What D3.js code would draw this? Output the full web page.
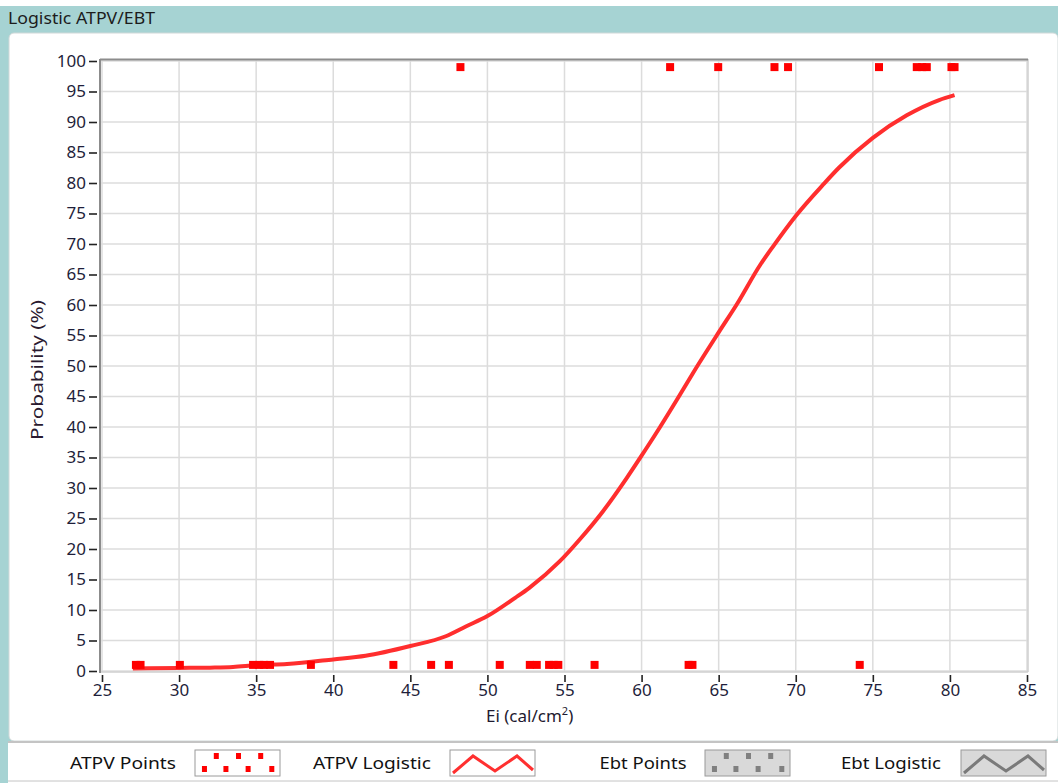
<!DOCTYPE html>
<html><head><meta charset="utf-8">
<script src="https://cdn.jsdelivr.net/npm/d3@7"></script>
<style>
body{margin:0;background:#fff;}
svg{display:block;font-family:"Noto Sans","DejaVu Sans",sans-serif;}
.tick text{font-size:17px;fill:#1e1e3a;font-family:"Noto Sans",sans-serif;}
</style></head>
<body><svg id="c" width="1058" height="783"></svg>
<script>
// ---- data ----
const title = "Logistic ATPV/EBT";
const xTicks = [25,30,35,40,45,50,55,60,65,70,75,80,85];
const yTicks = [0,5,10,15,20,25,30,35,40,45,50,55,60,65,70,75,80,85,90,95,100];
// ATPV points: no break-open (plotted at 1%) and break-open (plotted at 99%)
const atpvLowX = [27.2,27.5,30.05,34.8,35.2,35.5,35.9,38.55,43.9,46.35,47.5,50.8,52.75,53.2,54.0,54.3,54.6,56.95,63.05,63.3,74.15];
const atpvLowY = [1,1,1,1,1,1,1,1,1,1,1,1,1,1,1,1,1,1,1,1,1];
const atpvHighX = [48.25,61.85,64.97,68.62,69.5,75.4,77.85,78.2,78.5,80.1,80.3];
const atpvHighY = [99,99,99,99,99,99,99,99,99,99,99];
// ATPV logistic curve
const curveX = [27.0,28.0,30.0,32.0,33.5,35.0,37.0,40.0,42.1,45.0,47.3,48.6,50.0,51.8,52.7,54.7,56.0,57.5,59.0,60.0,61.2,62.3,63.3,65.0,66.2,67.7,68.5,70.0,71.8,72.8,75.0,77.2,79.3,80.3];
const curveY = [0.4,0.45,0.5,0.55,0.65,0.95,1.15,1.9,2.5,4.1,5.7,7.3,9.0,12.0,13.6,18.0,21.6,26.2,31.5,35.3,40.0,44.5,48.7,55.5,60.2,66.6,69.5,74.6,79.8,82.5,87.4,91.1,93.6,94.4];
const legendNames = ["ATPV Points","ATPV Logistic","Ebt Points","Ebt Logistic"];

const svg = d3.select("#c");
// window chrome
svg.append("rect").attr("x",0).attr("y",6).attr("width",1058).attr("height",777).attr("fill","#a6d3d3");
svg.append("rect").attr("x",9).attr("y",33).attr("width",1049).attr("height",708).attr("rx",5).attr("fill","#fff").attr("stroke","#d0d8d8");
svg.append("rect").attr("x",8).attr("y",743).attr("width",1050).attr("height",40).attr("fill","#fff");
svg.append("line").attr("x1",8).attr("x2",1058).attr("y1",742).attr("y2",742).attr("stroke","#c4c4c4").attr("stroke-width",2);
svg.append("line").attr("x1",8).attr("x2",1058).attr("y1",781).attr("y2",781).attr("stroke","#c4c4c4").attr("stroke-width",1);
svg.append("text").attr("x",8).attr("y",24).attr("font-size",16).attr("fill","#1c1c1c")
  .attr("textLength",147).attr("lengthAdjust","spacingAndGlyphs").text(title);

const x = d3.scaleLinear().domain([25,85]).range([102,1027]);
const y = d3.scaleLinear().domain([0,100]).range([671,61]);

// grid
const g = svg.append("g");
g.selectAll(".vg").data(xTicks).join("line").attr("x1",d=>x(d)).attr("x2",d=>x(d)).attr("y1",60).attr("y2",672).attr("stroke","#dcdcdc").attr("stroke-width",1.5);
g.selectAll(".hg").data(yTicks).join("line").attr("x1",100).attr("x2",1028).attr("y1",d=>y(d)).attr("y2",d=>y(d)).attr("stroke","#dcdcdc").attr("stroke-width",1.5);
// frame
g.append("line").attr("x1",100).attr("x2",1028).attr("y1",672).attr("y2",672).attr("stroke","#cfcfcf").attr("stroke-width",1.5);
g.append("line").attr("x1",1028).attr("x2",1028).attr("y1",59).attr("y2",672).attr("stroke","#cfcfcf").attr("stroke-width",1.5);
g.append("line").attr("x1",100).attr("x2",1028).attr("y1",59.5).attr("y2",59.5).attr("stroke","#8c8c8c").attr("stroke-width",2);
g.append("line").attr("x1",100).attr("x2",100).attr("y1",59).attr("y2",673).attr("stroke","#8c8c8c").attr("stroke-width",2);

// axes
const ya = d3.axisLeft(y).tickValues(yTicks).tickSize(8).tickPadding(3).tickFormat(d3.format("d"));
const ay = svg.append("g").attr("transform","translate(97,0)").call(ya);
const xa = d3.axisBottom(x).tickValues(xTicks).tickSize(8).tickPadding(2).tickFormat(d3.format("d"));
const ax = svg.append("g").attr("transform","translate(0,674)").call(xa);
[ay,ax].forEach(a=>{
  a.select(".domain").remove();
  a.selectAll(".tick line").attr("stroke","#222").attr("stroke-width",1.6);
});
ax.selectAll(".tick line").attr("y1",1);

svg.append("text").attr("transform","translate(43,370) rotate(-90)").attr("text-anchor","middle")
  .attr("font-size",16).attr("fill","#2a1a30").attr("textLength",140).attr("lengthAdjust","spacingAndGlyphs").text("Probability (%)");
const xl = svg.append("text").attr("x",486).attr("y",722).attr("font-size",17).attr("fill","#1e1a30");
xl.append("tspan").text("Ei (cal/cm");
xl.append("tspan").attr("dy",-7).attr("font-size",11).text("2");
xl.append("tspan").attr("dy",7).text(")");

// curve
const line = d3.line().x(d=>x(d[0])).y(d=>y(d[1])).curve(d3.curveMonotoneX);
svg.append("path").datum(d3.zip(curveX,curveY)).attr("d",line).attr("fill","none").attr("stroke","#ff2e2e").attr("stroke-width",4);

// points
const pts = d3.zip(atpvLowX,atpvLowY).concat(d3.zip(atpvHighX,atpvHighY));
svg.selectAll(".pt").data(pts).join("rect").attr("x",d=>x(d[0])-4).attr("y",d=>y(d[1])-4).attr("width",8).attr("height",8).attr("fill","#ff0000");

// legend
const leg = [
  {tx:123, w:106, bx:195, type:"pts", col:"#ff0000", bg:"#fff"},
  {tx:372, w:118, bx:450, type:"line", col:"#ff3030", bg:"#fff"},
  {tx:643, w:87, bx:705, type:"pts", col:"#808080", bg:"#d9d9d9"},
  {tx:891, w:100, bx:961, type:"line", col:"#7a7a7a", bg:"#d9d9d9"}
];
const lg = svg.append("g");
leg.forEach((L,i)=>{
  lg.append("text").attr("x",L.tx).attr("y",769).attr("text-anchor","middle").attr("font-size",16).attr("fill","#111")
    .attr("textLength",L.w).attr("lengthAdjust","spacingAndGlyphs").text(legendNames[i]);
  lg.append("rect").attr("x",L.bx).attr("y",750).attr("width",85).attr("height",26).attr("fill",L.bg).attr("stroke","#9a9a9a").attr("stroke-width",1);
  if(L.type==="pts"){
    const top=[[0.2,0],[0.5,0],[0.8,0]], bot=[[0.04,1],[0.33,1],[0.63,1],[0.95,1]];
    top.concat(bot).forEach(p=>{
      lg.append("rect").attr("x",L.bx+4+p[0]*74).attr("y",p[1]?766:753).attr("width",5).attr("height",6).attr("fill",L.col);
    });
  } else {
    lg.append("polyline").attr("points",[[L.bx+3,773],[L.bx+23,756],[L.bx+45,771],[L.bx+67,756],[L.bx+83,770]].map(p=>p.join(",")).join(" "))
      .attr("fill","none").attr("stroke",L.col).attr("stroke-width",3);
  }
});
</script></body></html>
